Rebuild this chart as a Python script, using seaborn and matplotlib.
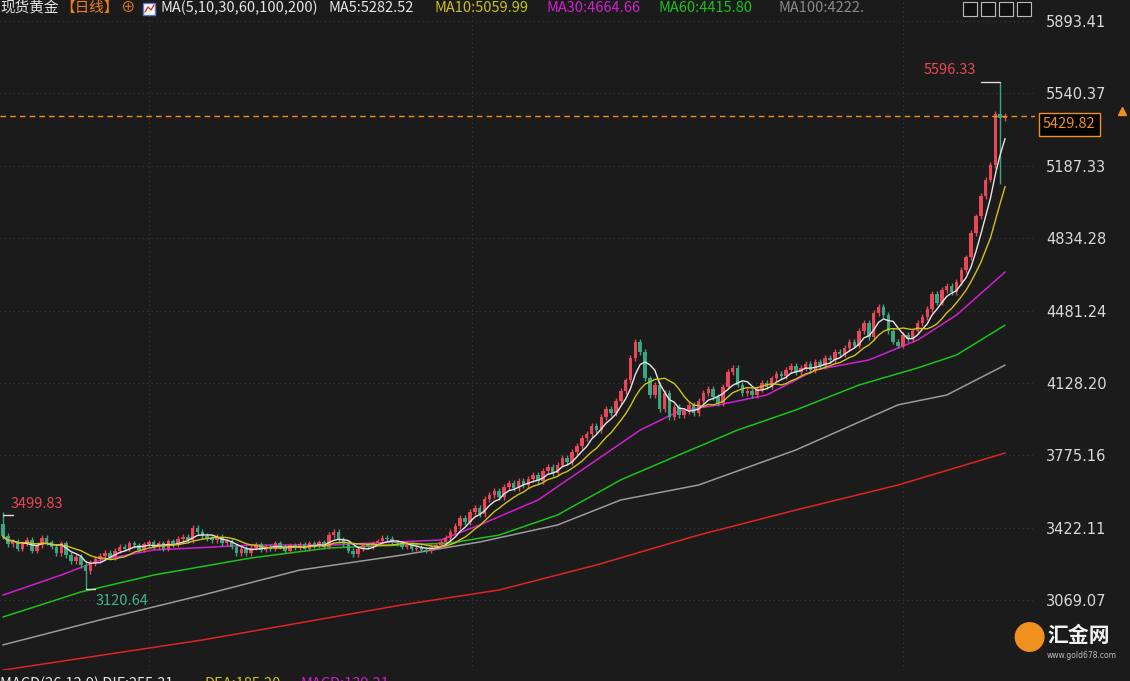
import matplotlib
matplotlib.use('Agg')
import matplotlib.pyplot as plt
import matplotlib.patches as patches
import seaborn as sns
import numpy as np
import pandas as pd

# daily closes (open = previous close)
closes = [3380, 3340, 3355, 3320, 3345, 3360, 3310, 3335, 3370, 3350,
          3330, 3300, 3345, 3290, 3260, 3280, 3240, 3210, 3250, 3270,
          3285, 3300, 3280, 3310, 3330, 3320, 3345, 3335, 3315, 3340,
          3350, 3330, 3345, 3320, 3355, 3340, 3365, 3375, 3360, 3420,
          3400, 3380, 3370, 3360, 3375, 3345, 3355, 3330, 3300, 3320,
          3300, 3325, 3340, 3315, 3330, 3320, 3345, 3330, 3310, 3335,
          3325, 3340, 3320, 3345, 3335, 3350, 3330, 3385, 3400, 3360,
          3340, 3310, 3295, 3320, 3335, 3330, 3345, 3355, 3370, 3365,
          3350, 3345, 3330, 3340, 3320, 3325, 3315, 3310, 3330, 3335,
          3350, 3370, 3400, 3430, 3470, 3450, 3500, 3520, 3490, 3560,
          3580, 3600, 3570, 3620, 3640, 3615, 3650, 3630, 3660, 3680,
          3650, 3700, 3720, 3690, 3730, 3760, 3740, 3790, 3820, 3860,
          3880, 3920, 3900, 3960, 4000, 3980, 4040, 4090, 4140, 4250,
          4330, 4280, 4150, 4070, 4120, 4000, 4080, 3960, 4010, 3970,
          3990, 4020, 3980, 4040, 4080, 4100, 4060, 4030, 4110, 4180,
          4200, 4120, 4080, 4090, 4070, 4100, 4130, 4110, 4150, 4170,
          4160, 4190, 4210, 4180, 4200, 4220, 4190, 4230, 4210, 4250,
          4240, 4280, 4270, 4300, 4330, 4310, 4380, 4420, 4350, 4470,
          4500, 4460, 4380, 4330, 4310, 4360, 4340, 4380, 4420, 4450,
          4490, 4560, 4520, 4580, 4600, 4570, 4620, 4680, 4740, 4860,
          4940, 5040, 5120, 5190, 5440, 5420, 5429.82]
first_open = 3440
max_idx, max_val = 205, 5596.33
min_idx, min_val = 17, 3120.64
first_high = 3499.83
low_205 = 5100

# long moving averages sampled along the chart (candle index, value)
ma30_idx = [0, 12, 20, 31, 51, 67, 90, 98, 110, 122, 131, 139, 147, 157, 167, 178, 188, 196, 206]
ma30_val = [3093, 3191, 3264, 3313, 3337, 3337, 3362, 3435, 3557, 3752, 3898, 3991, 4020, 4069, 4191, 4240, 4337, 4459, 4669]
ma60_idx = [0, 16, 31, 51, 67, 92, 102, 114, 127, 139, 151, 163, 176, 188, 196, 206]
ma60_val = [2986, 3108, 3191, 3274, 3323, 3347, 3386, 3484, 3655, 3777, 3898, 3996, 4118, 4201, 4264, 4410]
ma100_idx = [0, 20, 41, 61, 82, 98, 114, 127, 143, 163, 184, 194, 206]
ma100_val = [2850, 2972, 3093, 3215, 3288, 3352, 3435, 3557, 3630, 3801, 4021, 4069, 4215]
ma200_idx = [0, 41, 82, 102, 122, 143, 163, 184, 206]
ma200_val = [2727, 2874, 3045, 3118, 3240, 3386, 3508, 3630, 3786]

yticks = [3069.07, 3422.11, 3775.16, 4128.20, 4481.24, 4834.28, 5187.33, 5540.37, 5893.41]
last_price = 5429.82

BG = '#1b1b1b'
UP = '#e8475a'
DOWN = '#3aa57f'

sns.set_style('dark')
plt.rcParams['font.family'] = ['Noto Sans CJK SC', 'DejaVu Sans']

n = len(closes)
idx = np.arange(n)
c = np.array(closes, dtype=float)
o = np.r_[first_open, c[:-1]]
wick = 14.0
hi = np.maximum(o, c) + wick
lo = np.minimum(o, c) - wick
hi[0] = first_high
lo[min_idx] = min_val
hi[max_idx] = max_val
lo[max_idx] = low_205

fig = plt.figure(figsize=(11.3, 6.81), dpi=100, facecolor=BG)
ax = fig.add_axes([0, 11 / 681, 1035 / 1130, 670 / 681], facecolor=BG)

# grid
for t in yticks:
    ax.axhline(t, color='#3a3a3a', lw=0.8, ls=(0, (1, 3)), zorder=0)
for gx in [30, 96.5, 185]:
    ax.axvline(gx, color='#3a3a3a', lw=0.8, ls=(0, (1, 3)), zorder=0)

# candles
up = c >= o
col = np.where(up, UP, DOWN)
ax.vlines(idx, lo, hi, colors=col, lw=1, zorder=2)
ax.bar(idx, np.maximum(np.abs(c - o), 3), bottom=np.minimum(o, c), width=0.72,
       color=col, linewidth=0, zorder=3)

# moving averages
df = pd.DataFrame({'i': idx, 'c': c})
df['ma5'] = df['c'].rolling(5, min_periods=1).mean()
df['ma10'] = df['c'].rolling(10, min_periods=1).mean()
sns.lineplot(x=df['i'], y=df['ma5'], ax=ax, color='#e6e6e6', lw=1, zorder=4)
sns.lineplot(x=df['i'], y=df['ma10'], ax=ax, color='#d2c21a', lw=1, zorder=4)
sns.lineplot(x=ma30_idx, y=ma30_val, ax=ax, color='#d21ed2', lw=1.1, zorder=1)
sns.lineplot(x=ma60_idx, y=ma60_val, ax=ax, color='#17c417', lw=1.1, zorder=1)
sns.lineplot(x=ma100_idx, y=ma100_val, ax=ax, color='#9a9a9a', lw=1.1, zorder=1)
sns.lineplot(x=ma200_idx, y=ma200_val, ax=ax, color='#e02424', lw=1.1, zorder=1)

# current price line
ax.axhline(last_price, color='#f0901e', lw=1, ls=(0, (4, 3)), zorder=5)

# extreme annotations
ax.plot([max_idx - 4, max_idx], [max_val, max_val], color='#dddddd', lw=1)
ax.text(max_idx - 5, max_val + 25, f'{max_val:.2f}', color='#e8475a', fontsize=10.5,
        ha='right', va='bottom')
ax.plot([0, 2], [first_high - 15, first_high - 15], color='#dddddd', lw=1)
ax.text(1.5, first_high + 5, f'{first_high:.2f}', color='#e8475a', fontsize=10.5,
        ha='left', va='bottom')
ax.plot([min_idx, min_idx + 2], [min_val, min_val], color='#dddddd', lw=1)
ax.text(min_idx + 2, min_val - 20, f'{min_val:.2f}', color='#45b08c', fontsize=10.5,
        ha='left', va='top')

ax.set_xlim(-0.6, n - 1 + 30 / 4.88)
ax.set_ylim(2727.6, 5995.9)
ax.set_xlabel('')
ax.set_ylabel('')
ax.set_xticks([])
ax.yaxis.tick_right()
ax.set_yticks(yticks)
ax.set_yticklabels([f'{t:.2f}' for t in yticks], color='#d8d8d8', fontsize=10.5,
                   family=['DejaVu Sans'])
ax.tick_params(axis='y', length=0, pad=8)
for s in ax.spines.values():
    s.set_visible(False)

# current price box
ax.text(1.0 + 8 / 1035, last_price - 40, f'{last_price:.2f}', transform=ax.get_yaxis_transform(),
        color='#f0901e', fontsize=10.5, va='center', ha='left',
        bbox=dict(boxstyle='square,pad=0.3', fc='black', ec='#f0901e', lw=1))
ax.plot([1.0 + 87 / 1035], [last_price + 25], marker='^', color='#f0901e', ms=6,
        transform=ax.get_yaxis_transform(), clip_on=False)

# header
hy = 1 - 8 / 681
parts = [(0, '现货黄金', '#e6e6e6'), (60, '【日线】', '#f0801e'), (120, '⊕', '#f0801e'),
         (160, 'MA(5,10,30,60,100,200)', '#e6e6e6'), (328, 'MA5:5282.52', '#e6e6e6'),
         (434, 'MA10:5059.99', '#c8c21a'), (546, 'MA30:4664.66', '#d21ed2'),
         (659, 'MA60:4415.80', '#17c417'), (778, 'MA100:4222.', '#8a8a8a')]
for px, txt, cl in parts:
    fig.text(px / 1130, hy, txt, color=cl, fontsize=10.5, va='center', ha='left')
# small chart icon
fig.add_artist(patches.Rectangle((143 / 1130, 1 - 15 / 681), 12 / 1130, 12 / 681,
                                 transform=fig.transFigure, fc='white', ec='#5a7ad0', lw=1))
fig.add_artist(plt.Line2D([(145) / 1130, 148 / 1130, 151 / 1130, 154 / 1130],
                          [1 - 12 / 681, 1 - 7 / 681, 1 - 10 / 681, 1 - 5 / 681],
                          transform=fig.transFigure, color='#d03030', lw=1))
for k in range(4):
    fig.add_artist(patches.Rectangle(((963 + k * 18) / 1130, 1 - 16 / 681), 14 / 1130, 14 / 681,
                                     transform=fig.transFigure, fc='#111111', ec='#bbbbbb', lw=0.8))

# MACD line at the bottom, cut by the edge
fig.text(0, -3 / 681, 'MACD(26,12,9) DIF:255.31', color='#e6e6e6', fontsize=10.5, va='center')
fig.text(205 / 1130, -3 / 681, 'DEA:185.20', color='#c8c21a', fontsize=10.5, va='center')
fig.text(300 / 1130, -3 / 681, 'MACD:139.21', color='#d21ed2', fontsize=10.5, va='center')

# watermark
fig.text(1012 / 1130, 1 - 641 / 681, '●', color='#f0901e', fontsize=24, ha='left', va='center')
fig.text(1047 / 1130, 1 - 636 / 681, '汇金网', color='#f2f2f2', fontsize=15, ha='left', va='center',
         weight='bold')
fig.text(1047 / 1130, 1 - 655 / 681, 'www.gold678.com', color='#bbbbbb', fontsize=5.5, ha='left',
         va='center', family=['DejaVu Sans'])

fig.savefig('out.png', dpi=100, facecolor=BG)
